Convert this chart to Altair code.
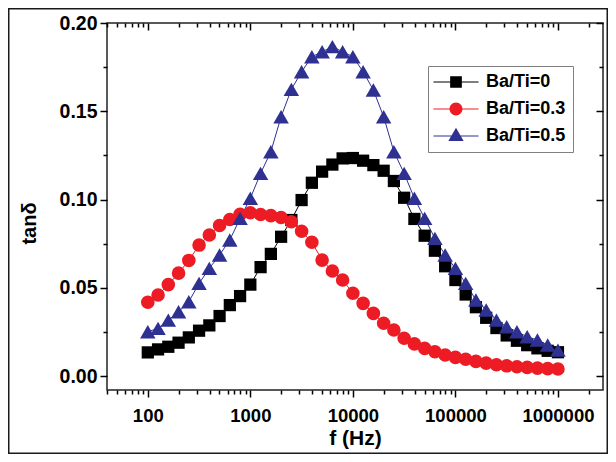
import altair as alt
import pandas as pd

# ---------------- data ----------------
freq = [100, 125.9, 158.5, 199.5, 251.2, 316.2, 398.1, 501.2, 631.0, 794.3,
        1000, 1259, 1585, 1995, 2512, 3162, 3981, 5012, 6310, 7943,
        10000, 12589, 15849, 19953, 25119, 31623, 39811, 50119, 63096, 79433,
        100000, 125893, 158489, 199526, 251189, 316228, 398107, 501187, 630957, 794328,
        1000000]

series_names = ["Ba/Ti=0", "Ba/Ti=0.3", "Ba/Ti=0.5"]

tan_0 = [0.0134, 0.0151, 0.0166, 0.0189, 0.0219, 0.0257, 0.0287, 0.0340, 0.0402, 0.0453,
         0.0518, 0.0617, 0.0692, 0.0789, 0.0884, 0.0997, 0.1095, 0.1158, 0.1198, 0.1233,
         0.1235, 0.1220, 0.1195, 0.1163, 0.1105, 0.1010, 0.0890, 0.0795, 0.0710, 0.0622,
         0.0544, 0.0462, 0.0390, 0.0330, 0.0272, 0.0230, 0.0200, 0.0175, 0.0157, 0.0143,
         0.0135]

tan_03 = [0.0418, 0.0459, 0.0518, 0.0583, 0.0655, 0.0742, 0.0799, 0.0853, 0.0887, 0.0916,
          0.0925, 0.0915, 0.0909, 0.0898, 0.0874, 0.0820, 0.0758, 0.0657, 0.0595, 0.0544,
          0.0469, 0.0412, 0.0355, 0.0299, 0.0261, 0.0214, 0.0182, 0.0157, 0.0138, 0.0119,
          0.0106, 0.0095, 0.0083, 0.0073, 0.0064, 0.0058, 0.0053, 0.0049, 0.0045, 0.0042,
          0.0040]

tan_05 = [0.0251, 0.0270, 0.0317, 0.0364, 0.0421, 0.0525, 0.0610, 0.0686, 0.0771, 0.0893,
          0.1007, 0.1148, 0.1271, 0.1469, 0.1624, 0.1724, 0.1809, 0.1837, 0.1866, 0.1837,
          0.1809, 0.1724, 0.1620, 0.1469, 0.1271, 0.1148, 0.1007, 0.0893, 0.0780, 0.0686,
          0.0610, 0.0525, 0.0431, 0.0374, 0.0317, 0.0279, 0.0251, 0.0223, 0.0204, 0.0176,
          0.0147]

colors = ["#000000", "#ed1c24", "#2e3192"]
shapes = ["square", "circle", "triangle-up"]
marker_sizes = [150, 185, 240]

# legend symbols: line segment with marker in the middle (custom SVG paths)
legend_paths = [
    "M-2.5,-0.06H-0.65V0.06H-2.5Z M0.65,-0.06H2.5V0.06H0.65Z M-0.65,-0.65H0.65V0.65H-0.65Z",
    "M-2.5,-0.06H-0.7V0.06H-2.5Z M0.7,-0.06H2.5V0.06H0.7Z M-0.72,0A0.72,0.72 0 1,1 0.72,0A0.72,0.72 0 1,1 -0.72,0Z",
    "M-2.5,-0.06H-0.45V0.06H-2.5Z M0.45,-0.06H2.5V0.06H0.45Z M0,-0.92L0.85,0.55H-0.85Z",
]

x_major = [100, 1000, 10000, 100000, 1000000]
x_minor = [40, 50, 60, 70, 80, 90,
           200, 300, 400, 500, 600, 700, 800, 900,
           2000, 3000, 4000, 5000, 6000, 7000, 8000, 9000,
           20000, 30000, 40000, 50000, 60000, 70000, 80000, 90000,
           200000, 300000, 400000, 500000, 600000, 700000, 800000, 900000,
           2000000]
y_major = [0.0, 0.05, 0.10, 0.15, 0.20]
y_minor = [0.025, 0.075, 0.125, 0.175]

x_domain = [40, 2.75e6]
y_domain = [-0.0079, 0.20]

# ---------------- build table ----------------
rows = []
for name, vals, shp, sz, col in zip(series_names, [tan_0, tan_03, tan_05], shapes, marker_sizes, colors):
    for f, v in zip(freq, vals):
        rows.append({"f": f, "tan": v, "series": name, "shape": shp, "msize": sz, "col": col})
df = pd.DataFrame(rows)

FONT = "Liberation Sans"
xs = alt.Scale(type="log", domain=x_domain, nice=False)
ys = alt.Scale(domain=y_domain, nice=False, zero=False)
cs = alt.Scale(domain=series_names, range=colors)

def ax(**kw):
    base = dict(grid=False, domain=False, tickColor="black", tickWidth=1.5)
    base.update(kw)
    return alt.Axis(**base)

base = alt.Chart(df)

border = alt.Chart(pd.DataFrame({"a": [0]})).mark_rect(
    fillOpacity=0, stroke="#1a1a1a", strokeWidth=2
).encode(x=alt.value(-98.5), x2=alt.value(500.5), y=alt.value(-14.5), y2=alt.value(430.5))

lines = base.mark_line(strokeWidth=1, clip=True).encode(
    x=alt.X("f:Q", scale=xs, axis=ax(orient="bottom", values=x_major, format="d", tickSize=7,
                                     labelFont=FONT, labelFontSize=18.5, labelFontWeight="bold",
                                     labelColor="black", labelPadding=9,
                                     title="f (Hz)", titleFont=FONT, titleFontSize=21,
                                     titleFontWeight="bold", titleColor="black", titlePadding=3)),
    y=alt.Y("tan:Q", scale=ys, axis=ax(orient="left", values=y_major, format=".2f", tickSize=7,
                                       labelFont=FONT, labelFontSize=19.5, labelFontWeight="bold",
                                       labelColor="black", labelPadding=3,
                                       title="tan\u03b4", titleFont=FONT, titleFontSize=20,
                                       titleFontWeight="bold", titleColor="black",
                                       titleX=-68, titleY=200)),
    color=alt.Color("col:N", scale=None),
    detail="series:N",
)

points = base.mark_point(filled=True, opacity=1).encode(
    x=alt.X("f:Q", scale=xs, axis=ax(orient="bottom", values=x_minor, tickSize=4, labels=False, title=None)),
    y=alt.Y("tan:Q", scale=ys, axis=ax(orient="left", values=y_minor, tickSize=4, labels=False, title=None)),
    color=alt.Color("col:N", scale=None),
    shape=alt.Shape("shape:N", scale=None),
    size=alt.Size("msize:Q", scale=None),
)

leg = alt.Legend(orient="none", legendX=321, legendY=43, title=None,
                 labelFont=FONT, labelFontSize=18, labelFontWeight="bold", labelColor="black",
                 labelExpr="datum.label + ' '",
                 strokeColor="#808080", fillColor="white", padding=7,
                 symbolSize=324, symbolOpacity=1, symbolStrokeWidth=0,
                 rowPadding=9, symbolOffset=12, labelOffset=21)

legend_layer = base.mark_point(filled=True, opacity=0).encode(
    x=alt.X("f:Q", scale=xs, axis=ax(orient="top", values=x_major, tickSize=7, offset=-7,
                                     labels=False, title=None)),
    y=alt.Y("tan:Q", scale=ys, axis=ax(orient="right", values=y_major, tickSize=7, offset=-7,
                                       labels=False, title=None)),
    color=alt.Color("series:N", scale=cs, legend=leg),
    shape=alt.Shape("series:N", scale=alt.Scale(domain=series_names, range=legend_paths), legend=leg),
)

minor_layer = base.mark_point(opacity=0).encode(
    x=alt.X("f:Q", scale=xs, axis=ax(orient="top", values=x_minor, tickSize=4, offset=-4,
                                     labels=False, title=None)),
    y=alt.Y("tan:Q", scale=ys, axis=ax(orient="right", values=y_minor, tickSize=4, offset=-4,
                                       labels=False, title=None)),
)

chart = alt.layer(border, lines, points, legend_layer, minor_layer).resolve_axis(
    x="independent", y="independent"
).properties(
    width=496, height=367,
    padding={"left": 99, "top": 15, "right": 5, "bottom": 64},
    autosize=alt.AutoSizeParams(type="none"),
    background="white",
).configure_view(stroke="#222222", strokeWidth=1.5)

chart.save("out.html", embed_options={"renderer": "svg", "actions": False})
